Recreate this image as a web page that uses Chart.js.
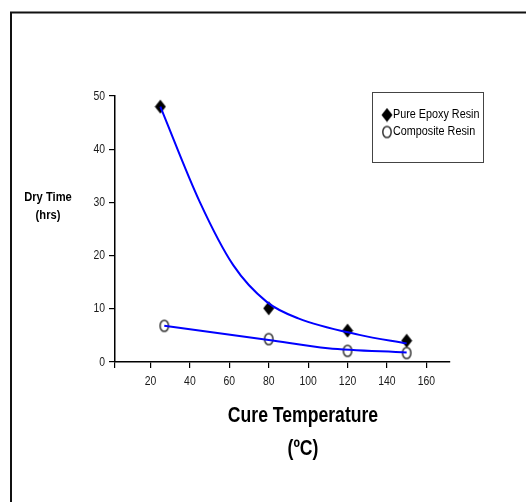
<!DOCTYPE html>
<html>
<head>
<meta charset="utf-8">
<script src="https://cdn.jsdelivr.net/npm/chart.js@4"></script>
<style>
  body { margin: 0; background: #fff; }
  canvas { display: block; }
</style>
</head>
<body>
<canvas id="chart" width="526" height="502"></canvas>
<script>
const FONT = '"Liberation Sans", Arial, sans-serif';

const epoxyTemp = [25, 80, 120, 150];
const epoxyHours = [48, 10.1, 5.9, 4.0];
const compositeTemp = [27, 80, 120, 150];
const compositeHours = [6.8, 4.3, 2.1, 1.7];

// fitted curves as drawn in the picture (read off, not computed)
const epoxyFitTemp = [25, 45, 62, 79, 95, 126, 150];
const epoxyFitHours = [48, 30.1, 18.2, 11.3, 8.2, 5.1, 3.5];
const compositeFitTemp = [27, 80, 110, 150];
const compositeFitHours = [6.8, 4.15, 2.6, 1.8];

const xTicks = [20, 40, 60, 80, 100, 120, 140, 160];
const seriesNames = ['Pure Epoxy Resin', 'Composite Resin'];

function diamondMarker() {
  const c = document.createElement('canvas');
  c.width = 12; c.height = 15;
  const g = c.getContext('2d');
  g.beginPath();
  g.moveTo(6, 0.5); g.lineTo(11.5, 7.5); g.lineTo(6, 14.5); g.lineTo(0.5, 7.5);
  g.closePath();
  g.fillStyle = '#000';
  g.fill();
  return c;
}
function ringMarker() {
  const c = document.createElement('canvas');
  c.width = 12; c.height = 15;
  const g = c.getContext('2d');
  g.beginPath();
  g.ellipse(6, 7.5, 4.2, 5.6, 0, 0, Math.PI * 2);
  g.lineWidth = 1.5;
  g.strokeStyle = '#333';
  g.stroke();
  return c;
}
const diamond = diamondMarker();
const ring = ringMarker();

const toPoints = (xs, ys) => xs.map((x, i) => ({x: x, y: ys[i]}));

// narrow text, the picture uses a condensed face
function narrowText(ctx, text, x, y, sx) {
  ctx.save();
  ctx.translate(x, y);
  ctx.scale(sx, 1);
  ctx.fillText(text, 0, 0);
  ctx.restore();
}

const decor = {
  id: 'decor',
  beforeDraw(chart) {
    const ctx = chart.ctx;
    ctx.save();
    ctx.fillStyle = '#fff';
    ctx.fillRect(0, 0, chart.width, chart.height);
    ctx.strokeStyle = '#111';
    ctx.lineWidth = 2;
    ctx.beginPath();
    ctx.moveTo(11, chart.height);
    ctx.lineTo(11, 12.5);
    ctx.lineTo(chart.width, 12.5);
    ctx.stroke();
    ctx.restore();
  },
  afterDraw(chart) {
    const ctx = chart.ctx;
    const xs = chart.scales.x, ys = chart.scales.y;
    ctx.save();
    ctx.fillStyle = '#1a1a1a';
    ctx.textBaseline = 'middle';

    // tick labels
    ctx.font = '13px ' + FONT;
    ctx.textAlign = 'right';
    ys.ticks.forEach(t => {
      narrowText(ctx, String(t.value), ys.right - 10, ys.getPixelForValue(t.value), 0.8);
    });
    ctx.textAlign = 'center';
    xTicks.forEach(v => {
      narrowText(ctx, String(v), xs.getPixelForValue(v), 381, 0.8);
    });

    // axis titles
    ctx.fillStyle = '#000';
    ctx.font = 'bold 12px ' + FONT;
    narrowText(ctx, 'Dry Time', 48, 198, 0.93);
    narrowText(ctx, '(hrs)', 48, 216, 0.93);
    ctx.font = 'bold 22px ' + FONT;
    narrowText(ctx, 'Cure Temperature', 303, 416, 0.8);
    narrowText(ctx, '(ºC)', 303, 449, 0.8);

    // legend box
    ctx.strokeStyle = '#444';
    ctx.lineWidth = 1;
    ctx.strokeRect(372.5, 92.5, 111, 70);
    ctx.font = '12px ' + FONT;
    ctx.textAlign = 'left';
    ctx.drawImage(diamond, 387 - 6, 115 - 7.5);
    narrowText(ctx, seriesNames[0], 393, 115, 0.9);
    ctx.drawImage(ring, 387 - 6, 132 - 7.5);
    narrowText(ctx, seriesNames[1], 393, 132, 0.9);
    ctx.restore();
  }
};

const fitLine = {
  borderColor: '#0000ff',
  borderWidth: 2,
  pointRadius: 0,
  cubicInterpolationMode: 'monotone'
};

new Chart(document.getElementById('chart'), {
  type: 'line',
  data: {
    datasets: [
      Object.assign({label: seriesNames[0] + ' fit', data: toPoints(epoxyFitTemp, epoxyFitHours)}, fitLine),
      Object.assign({label: seriesNames[1] + ' fit', data: toPoints(compositeFitTemp, compositeFitHours)}, fitLine),
      {
        label: seriesNames[0],
        data: toPoints(epoxyTemp, epoxyHours),
        showLine: false,
        pointStyle: diamond,
        pointRadius: 6
      }, {
        label: seriesNames[1],
        data: toPoints(compositeTemp, compositeHours),
        showLine: false,
        pointStyle: ring,
        pointRadius: 6
      }
    ]
  },
  options: {
    responsive: false,
    animation: false,
    layout: { padding: { left: 0, top: 96, right: 76, bottom: 0 } },
    plugins: { legend: { display: false }, tooltip: { enabled: false } },
    scales: {
      x: {
        type: 'linear',
        min: 2,
        max: 172,
        afterBuildTicks: s => { s.ticks = [2].concat(xTicks).map(v => ({value: v})); },
        afterFit: s => { s.height = 140; },
        grid: { drawOnChartArea: false, tickLength: 6, color: '#000', lineWidth: 1.2 },
        border: { color: '#000', width: 1.5 },
        ticks: { autoSkip: false, maxRotation: 0, color: 'rgba(0,0,0,0)', font: { family: FONT, size: 12 } }
      },
      y: {
        min: 0,
        max: 50,
        afterFit: s => { s.width = 115; },
        grid: { drawOnChartArea: false, tickLength: 6, color: '#000', lineWidth: 1.2 },
        border: { color: '#000', width: 1.5 },
        ticks: { stepSize: 10, color: 'rgba(0,0,0,0)', font: { family: FONT, size: 12 } }
      }
    }
  },
  plugins: [decor]
});
</script>
</body>
</html>
